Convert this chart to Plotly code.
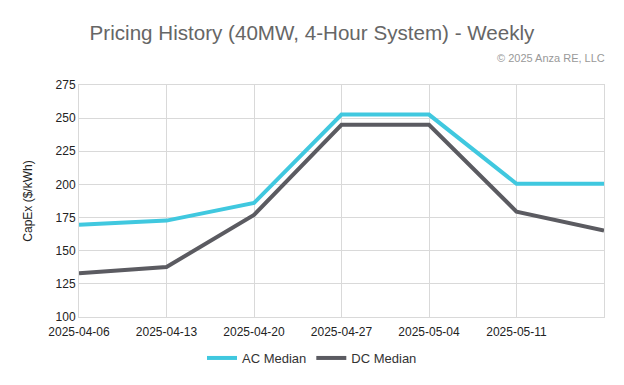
import plotly.graph_objects as go

dates = ["2025-04-06", "2025-04-13", "2025-04-20", "2025-04-27", "2025-05-04", "2025-05-11", "2025-05-18"]
ac_median = [169.5, 172.7, 186, 252.7, 252.7, 200.5, 200.5]
dc_median = [133, 137.7, 177, 245, 245, 179.5, 165.3]
tick_dates = dates[:6]
y_ticks = [100, 125, 150, 175, 200, 225, 250, 275]

font = "Liberation Sans, Arial, sans-serif"

# page body has an 8px margin; figure is sized/positioned to compensate
W, H = 616, 369
L, R, T, B = 71, 596, 77, 309

fig = go.Figure()
fig.add_trace(go.Scatter(x=dates, y=ac_median, mode="lines", name="AC Median",
                         line=dict(color="#40c8df", width=4)))
fig.add_trace(go.Scatter(x=dates, y=dc_median, mode="lines", name="DC Median",
                         line=dict(color="#5b5b61", width=4)))

fig.update_layout(
    width=W, height=H,
    margin=dict(l=L, r=W - R, t=T, b=H - B, autoexpand=False),
    paper_bgcolor="white", plot_bgcolor="white",
    font=dict(family=font, size=12, color="#222"),
    title=dict(text="Pricing History (40MW, 4-Hour System) - Weekly",
               x=304 / W, xanchor="center", xref="container",
               y=1 - 25 / H, yanchor="middle", yref="container",
               font=dict(size=20.6, color="#666")),
    annotations=[dict(text="© 2025 Anza RE, LLC", xref="paper", yref="paper",
                      x=(599 - L) / (R - L), y=(B - 50) / (B - T),
                      xanchor="right", yanchor="middle",
                      showarrow=False, font=dict(size=11, color="#999"))],
    legend=dict(orientation="h", x=304 / W, xanchor="center", xref="container",
                y=1 - 350 / H, yref="container", yanchor="middle",
                font=dict(size=13, color="#333"), itemwidth=30),
    xaxis=dict(type="date", range=["2025-04-06", "2025-05-18"],
               tickvals=tick_dates, ticktext=tick_dates,
               showgrid=True, gridcolor="#d9d9d9", gridwidth=1,
               showline=True, linecolor="#d9d9d9", mirror=True,
               ticks="", ticklabelstandoff=4,
               tickfont=dict(size=12, color="#222")),
    yaxis=dict(range=[100, 275], tickvals=y_ticks,
               showgrid=True, gridcolor="#d9d9d9", gridwidth=1,
               showline=True, linecolor="#d9d9d9", mirror=True,
               zeroline=False, ticks="",
               title=dict(text="CapEx ($/kWh)", font=dict(size=12, color="#222"), standoff=20),
               tickfont=dict(size=12, color="#222")),
)

fig.write_html("out.html")
